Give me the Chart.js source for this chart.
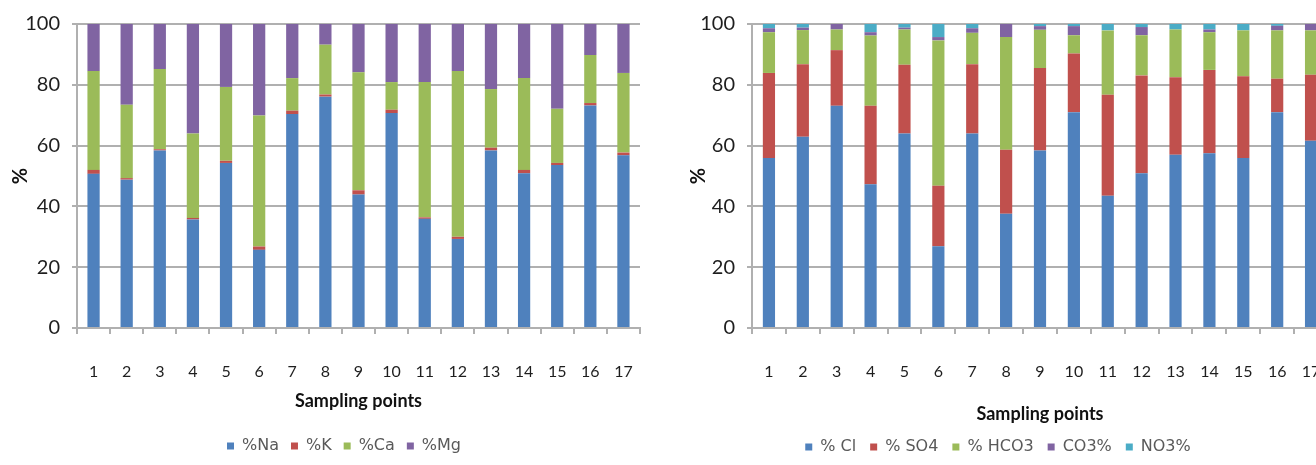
<!DOCTYPE html>
<html>
<head>
<meta charset="utf-8">
<script src="https://cdn.jsdelivr.net/npm/chart.js@4.4.1/dist/chart.umd.min.js"></script>
<style>
  html, body { margin: 0; padding: 0; background: #fff; overflow: hidden; width: 1316px; height: 465px; }
  .panel { position: absolute; top: 0; height: 465px; }
  #panelCations { left: 0; width: 688px; }
  #panelAnions { left: 668px; width: 660px; }
</style>
</head>
<body>
<div class="panel" id="panelCations"><canvas id="cations" width="688" height="465"></canvas></div>
<div class="panel" id="panelAnions"><canvas id="anions" width="660" height="465"></canvas></div>
<script>
// Sampling points and percentage axis ticks
const samplingPoints = ['1','2','3','4','5','6','7','8','9','10','11','12','13','14','15','16','17'];
const percentTicks = [0, 20, 40, 60, 80, 100];

// Cation shares (%) per sampling point
const pctNa = [50.7, 48.8, 58.4, 35.7, 54.3, 25.7, 70.4, 76.1, 43.9, 70.7, 35.9, 29.3, 58.4, 50.9, 53.6, 73.2, 56.8];
const pctK  = [1.3, 0.5, 0.4, 0.5, 0.7, 1.1, 1.1, 0.7, 1.4, 1.1, 0.5, 0.7, 0.9, 1.1, 0.7, 0.8, 0.9];
const pctCa = [32.5, 24.1, 26.4, 27.8, 24.3, 43.1, 10.7, 16.4, 38.8, 9.1, 44.5, 54.5, 19.3, 30.2, 17.8, 15.8, 26.2];
const pctMg = [15.5, 26.6, 14.8, 36.0, 20.7, 30.1, 17.8, 6.8, 15.9, 19.1, 19.1, 15.5, 21.4, 17.8, 27.9, 10.2, 16.1];

// Anion shares (%) per sampling point
const pctCl   = [55.9, 62.9, 73.1, 47.3, 64.0, 26.9, 64.0, 37.6, 58.4, 71.0, 43.5, 50.9, 57.0, 57.5, 55.9, 71.0, 61.6];
const pctSO4  = [28.0, 23.9, 18.3, 25.8, 22.6, 19.9, 22.8, 21.0, 27.1, 19.3, 33.2, 32.2, 25.5, 27.4, 26.9, 11.0, 21.7];
const pctHCO3 = [13.4, 11.2, 6.8, 23.1, 11.6, 47.8, 10.3, 37.1, 12.6, 6.0, 21.2, 13.2, 15.7, 12.4, 15.1, 15.9, 14.6];
const pctCO3  = [1.3, 0.8, 1.8, 1.1, 0.6, 1.1, 1.5, 4.3, 1.2, 3.0, 0.0, 2.7, 0.0, 0.9, 0.0, 1.5, 2.1];
const pctNO3  = [1.4, 1.2, 0.0, 2.7, 1.2, 4.3, 1.4, 0.0, 0.7, 0.7, 2.1, 1.0, 1.8, 1.8, 2.1, 0.6, 0.0];

const BLUE = '#4f81bd', RED = '#c0504d', GREEN = '#9bbb59', PURPLE = '#8064a2', AQUA = '#4bacc6';
const GRID = '#b0b0b0';

Chart.defaults.font.family = 'Lato, "Open Sans", sans-serif';
Chart.defaults.animation = false;

function series(label, data, color, barPct) {
  return { label, data, backgroundColor: color, borderWidth: 0,
           categoryPercentage: 1.0, barPercentage: barPct };
}

function buildOptions(cfg) {
  const scales = {
    x: {
      stacked: true,
      afterFit: s => { s.height = cfg.xHeight; s.paddingLeft = 0; s.paddingRight = 0; },
      grid: { drawOnChartArea: false, drawTicks: true, tickLength: 6, color: GRID, lineWidth: 2 },
      border: { color: GRID, width: 2 },
      ticks: { color: '#1e1e1e', font: { size: 16 }, padding: 28, maxRotation: 0, autoSkip: false },
      title: { display: true, text: 'Sampling points', color: '#111',
               font: { size: 18, weight: 'bold' }, padding: { top: 0, bottom: cfg.xTitleBottom } }
    },
    y: {
      stacked: true,
      min: 0, max: 100,
      afterFit: s => { s.width = cfg.yWidth; },
      afterBuildTicks: s => { s.ticks = percentTicks.map(v => ({ value: v })); },
      grid: { color: GRID, lineWidth: 2, tickLength: 5 },
      border: { color: GRID, width: 2 },
      ticks: { color: '#1e1e1e', font: { size: 20 }, padding: 12 },
      title: { display: true, text: '%', color: '#111',
               font: { size: 20, weight: 'bold' }, padding: { top: cfg.yTitleTop, bottom: 0 } }
    }
  };
  if (cfg.rightGutter) {
    // empty right-hand box that keeps the plot clear of the canvas edge
    scales.gutter = {
      type: 'linear', position: 'right', display: true,
      grid: { display: false }, border: { display: false }, ticks: { display: false },
      afterFit: s => { s.width = cfg.rightGutter; }
    };
  }
  return {
    responsive: false,
    animation: false,
    layout: { padding: { top: 17, right: 0, left: 0, bottom: cfg.padBottom } },
    plugins: {
      tooltip: { enabled: false },
      legend: {
        position: 'bottom',
        labels: {
          boxWidth: 7, boxHeight: 7, padding: cfg.legendPad,
          color: '#595959',
          font: { size: 16, family: '"DejaVu Sans", sans-serif' }
        }
      }
    },
    scales
  };
}

new Chart(document.getElementById('cations'), {
  type: 'bar',
  data: {
    labels: samplingPoints,
    datasets: [
      series('%Na', pctNa, BLUE, 0.37),
      series('%K', pctK, RED, 0.37),
      series('%Ca', pctCa, GREEN, 0.37),
      series('%Mg', pctMg, PURPLE, 0.37)
    ]
  },
  options: buildOptions({ rightGutter: 48, padBottom: 1, xHeight: 98, legendPad: 12,
                          xTitleBottom: 14, yWidth: 77, yTitleTop: 9 })
});

new Chart(document.getElementById('anions'), {
  type: 'bar',
  data: {
    labels: samplingPoints,
    datasets: [
      series('% Cl', pctCl, BLUE, 0.36),
      series('% SO4', pctSO4, RED, 0.36),
      series('% HCO3', pctHCO3, GREEN, 0.36),
      series('CO3%', pctCO3, PURPLE, 0.36),
      series('NO3%', pctNO3, AQUA, 0.36)
    ]
  },
  options: buildOptions({ rightGutter: 0, padBottom: 0, xHeight: 97, legendPad: 14,
                          xTitleBottom: 0, yWidth: 84, yTitleTop: 19 })
});
</script>
</body>
</html>
